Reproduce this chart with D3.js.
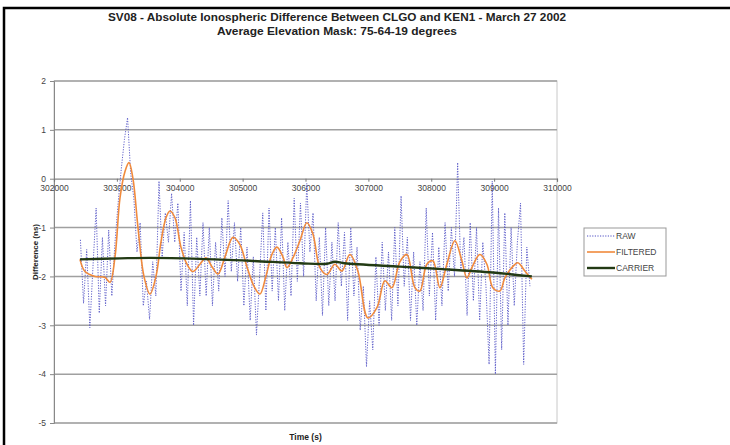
<!DOCTYPE html>
<html>
<head>
<meta charset="utf-8">
<script src="https://cdn.jsdelivr.net/npm/d3@7"></script>
<style>
  html, body { margin: 0; padding: 0; background: #fff; }
  svg { display: block; font-family: "Liberation Sans", Arial, sans-serif; }
</style>
</head>
<body>
<svg id="chart" width="730" height="445"></svg>
<script>
// Time axis ticks (s) and difference ticks (ns)
const xTicks = [302000, 303000, 304000, 305000, 306000, 307000, 308000, 309000, 310000];
const yTicks = [2, 1, 0, -1, -2, -3, -4, -5];

// RAW samples: one every 50 s starting at 302420 s
const rawStart = 302420;
const rawStep = 50;
const rawValues = [
  -1.25, -2.55, -1.45, -3.05, -1.8, -0.6, -2.75, -1.2, -2.6, -1.05,
  -2.4, -1.3, -0.5, 0.2, 0.8, 1.25, 0.1, -0.4, -1.5, -0.9,
  -2.6, -2.1, -2.88, -1.7, -2.4, -0.05, -1.6, -0.7, -1.3, -0.3,
  -1.3, -0.5, -2.3, -1.1, -2.6, -0.45, -3.0, -1.2, -2.4, -0.9,
  -2.4, -1.0, -2.6, -1.3, -2.3, -0.8, -2.0, -0.45, -1.9, -0.9,
  -2.1, -1.0, -2.6, -1.4, -2.9, -1.6, -3.2, -2.0, -0.7, -2.7,
  -0.6, -2.3, -1.0, -2.5, -0.8, -2.7, -1.3, -2.4, -0.4, -2.1,
  -0.5, -2.0, -0.1, -1.5, -0.7, -2.5, -1.2, -2.8, -1.0, -2.6,
  -1.3, -2.5, -0.9, -2.2, -1.1, -2.9, -1.0, -2.4, -1.4, -3.1,
  -2.2, -3.85, -2.5, -3.5, -1.6, -3.0, -1.3, -2.7, -1.5, -2.9,
  -1.0, -2.6, -0.35, -2.2, -1.2, -2.9, -1.5, -3.0, -1.7, -2.7,
  -0.6, -2.4, -1.1, -2.9, -1.4, -2.6, -0.9, -2.3, -1.0, -2.0,
  0.33, -1.9, -1.2, -2.8, -0.9, -2.5, -1.0, -2.9, -1.3, -2.2,
  -3.8, -0.05, -4.0, -0.6, -3.5, -0.7, -3.0, -1.0, -2.6, -1.3,
  -0.5, -3.8, -1.4, -2.2
];

// FILTERED series
const filteredTime = [
  302413, 302493, 302652, 302811, 302890, 302970, 303049, 303129, 303193, 303256,
  303336, 303431, 303526, 303622, 303701, 303781, 303844, 303924, 304019, 304115,
  304210, 304321, 304417, 304512, 304608, 304719, 304846, 304957, 305068, 305180,
  305275, 305370, 305466, 305545, 305641, 305704, 305800, 305911, 306022, 306118,
  306229, 306340, 306467, 306578, 306706, 306833, 306992, 307136, 307263, 307374,
  307501, 307613, 307740, 307819, 307930, 308026, 308137, 308248, 308376, 308487,
  308567, 308646, 308773, 308885, 308980, 309091, 309171, 309282, 309377, 309489,
  309600
];
const filteredValues = [
  -1.65, -1.9, -2.0, -2.02, -2.12, -1.6, -0.4, 0.15, 0.33, 0.0,
  -1.0, -2.0, -2.36, -2.0, -1.3, -0.8, -0.66, -0.8, -1.4, -1.75,
  -1.9, -1.75, -1.62, -1.8, -1.95, -1.6, -1.2, -1.35, -1.8, -2.2,
  -2.36, -2.0, -1.55, -1.4, -1.6, -1.82, -1.62, -1.27, -0.9, -1.13,
  -1.82, -1.96, -1.75, -1.89, -1.55, -1.89, -2.85, -2.64, -2.09, -2.23,
  -1.7, -1.55, -2.23, -2.3, -1.75, -1.68, -2.23, -1.75, -1.27, -1.68,
  -2.03, -1.82, -1.55, -1.75, -2.23, -2.3, -2.03, -1.82, -1.72, -1.89,
  -2.06
];

// CARRIER series
const carrierTime = [302413, 303049, 303526, 304321, 305116, 305911, 306340, 306467, 306620, 307501, 308185, 308980, 309600];
const carrierValues = [-1.65, -1.63, -1.62, -1.64, -1.68, -1.73, -1.74, -1.7, -1.73, -1.8, -1.85, -1.92, -2.0];

const seriesNames = ["RAW", "FILTERED", "CARRIER"];
const titleLines = [
  "SV08 - Absolute Ionospheric Difference Between CLGO and KEN1 - March 27 2002",
  "Average Elevation Mask: 75-64-19 degrees"
];
const titleWidths = [458, 240];

const svg = d3.select("#chart");

// outer frame
svg.append("rect")
  .attr("x", 4).attr("y", 8).attr("width", 800).attr("height", 500)
  .attr("fill", "#fff").attr("stroke", "#000").attr("stroke-width", 2.5);

const plot = { left: 54, right: 557, top: 81, bottom: 423 };
const x = d3.scaleLinear().domain([302000, 310000]).range([plot.left, plot.right]);
const y = d3.scaleLinear().domain([-5, 2]).range([plot.bottom, plot.top]);

// plot area border
svg.append("rect")
  .attr("x", plot.left).attr("y", plot.top)
  .attr("width", plot.right - plot.left).attr("height", plot.bottom - plot.top)
  .attr("fill", "#fff").attr("stroke", "#c8c8c8").attr("stroke-width", 1);

// horizontal gridlines
svg.append("g").selectAll("line").data(yTicks.filter(v => v !== 0)).join("line")
  .attr("x1", plot.left).attr("x2", plot.right)
  .attr("y1", d => y(d)).attr("y2", d => y(d))
  .attr("stroke", "#a0a0a0").attr("stroke-width", 1.5);

// y axis
const yAxis = d3.axisLeft(y).tickValues(yTicks).tickSize(4).tickPadding(4).tickFormat(d3.format("d"));
const gy = svg.append("g").attr("transform", `translate(${plot.left},0)`).call(yAxis);
gy.select(".domain").attr("stroke", "#888");
gy.selectAll(".tick line").attr("stroke", "#888");
gy.selectAll(".tick text").attr("fill", "#444").style("font-size", "8.5px")
  .text(d => d < 0 ? "-" + Math.abs(d) : d);

// x axis crossing at zero
const xAxis = d3.axisBottom(x).tickValues(xTicks).tickSize(3).tickPadding(3).tickFormat(d3.format("d"));
const gx = svg.append("g").attr("transform", `translate(0,${y(0)})`).call(xAxis);
gx.select(".domain").attr("stroke", "#888").attr("stroke-width", 1.2);
gx.selectAll(".tick line").attr("stroke", "#777");
gx.selectAll(".tick text").attr("fill", "#444").style("font-size", "8.5px");

// series lines
const rawData = rawValues.map((v, i) => [rawStart + i * rawStep, v]);
const filteredData = filteredTime.map((t, i) => [t, filteredValues[i]]);
const carrierData = carrierTime.map((t, i) => [t, carrierValues[i]]);

const straight = d3.line().x(d => x(d[0])).y(d => y(d[1]));
const smooth = d3.line().x(d => x(d[0])).y(d => y(d[1])).curve(d3.curveCatmullRom.alpha(0.5));

svg.append("path").datum(rawData).attr("d", straight)
  .attr("fill", "none").attr("stroke", "#4f4fc4").attr("stroke-width", 0.9)
  .attr("stroke-dasharray", "1.2,1.4");

svg.append("path").datum(filteredData).attr("d", smooth)
  .attr("fill", "none").attr("stroke", "#f08a3c").attr("stroke-width", 1.6);

svg.append("path").datum(carrierData).attr("d", smooth)
  .attr("fill", "none").attr("stroke", "#223a14").attr("stroke-width", 2.4);

// titles
svg.append("g").selectAll("text").data(titleLines).join("text")
  .attr("x", 337).attr("y", (d, i) => 21 + i * 14)
  .attr("text-anchor", "middle")
  .attr("textLength", (d, i) => titleWidths[i]).attr("lengthAdjust", "spacingAndGlyphs")
  .style("font-size", "10.5px").style("font-weight", "bold").attr("fill", "#222")
  .text(d => d);

svg.append("text")
  .attr("transform", `translate(38,${(plot.top + plot.bottom) / 2}) rotate(-90)`)
  .attr("text-anchor", "middle")
  .style("font-size", "8px").style("font-weight", "bold").attr("fill", "#222")
  .text("Difference (ns)");

svg.append("text")
  .attr("x", (plot.left + plot.right) / 2).attr("y", 440)
  .attr("text-anchor", "middle")
  .style("font-size", "8.5px").style("font-weight", "bold").attr("fill", "#222")
  .text("Time (s)");

// legend
const legend = svg.append("g").attr("transform", "translate(584,228)");
legend.append("rect").attr("width", 82).attr("height", 48)
  .attr("fill", "#fff").attr("stroke", "#999").attr("stroke-width", 1);
const legStyles = [
  { stroke: "#4f4fc4", width: 1, dash: "1.2,1.4" },
  { stroke: "#f08a3c", width: 1.6, dash: null },
  { stroke: "#223a14", width: 2.4, dash: null }
];
seriesNames.forEach((name, i) => {
  const row = legend.append("g").attr("transform", `translate(0,${8 + i * 16})`);
  row.append("line").attr("x1", 3).attr("x2", 31).attr("y1", 0).attr("y2", 0)
    .attr("stroke", legStyles[i].stroke).attr("stroke-width", legStyles[i].width)
    .attr("stroke-dasharray", legStyles[i].dash);
  row.append("text").attr("x", 32).attr("y", 3)
    .style("font-size", "8.5px").attr("fill", "#444").text(name);
});
</script>
</body>
</html>
